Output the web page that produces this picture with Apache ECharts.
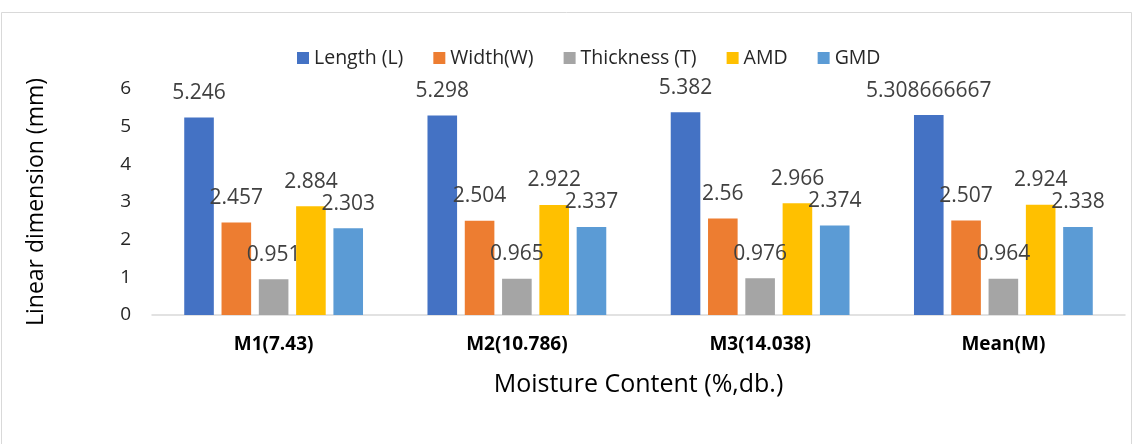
<!DOCTYPE html>
<html>
<head>
<meta charset="utf-8">
<style type="text/css">
    html, body {margin: 0; padding: 0; background: #fff;}
</style>
</head>
<body>
<div style="width: 1139px;height: 444px;" id="chart"></div>
<script src="https://cdn.jsdelivr.net/npm/echarts@6/dist/echarts.min.js"></script>
<script>

let categories = ['M1(7.43)', 'M2(10.786)', 'M3(14.038)', 'Mean(M)'];
let seriesNames = ['Length (L)', 'Width(W)', 'Thickness (T)', 'AMD', 'GMD'];
let colors = ['#4472C4', '#ED7D31', '#A5A5A5', '#FFC000', '#5B9BD5'];

let lengthL = [5.246, 5.298, 5.382, 5.308666667];
let widthW = [2.457, 2.504, 2.56, 2.507];
let thicknessT = [0.951, 0.965, 0.976, 0.964];
let amd = [2.884, 2.922, 2.966, 2.924];
let gmd = [2.303, 2.337, 2.374, 2.338];

let yTicks = [0, 1, 2, 3, 4, 5, 6];

let font = '"Open Sans", sans-serif';

let chart = echarts.init(document.getElementById('chart'));

let values = [lengthL, widthW, thicknessT, amd, gmd];

let series = values.map((vals, i) => {
    return {
        name: seriesNames[i],
        type: 'bar',
        data: vals,
        barGap: '26%',
        barCategoryGap: '26.5%',
        itemStyle: {color: colors[i]},
        label: {
            show: true,
            position: 'top',
            distance: 14,
            color: '#404040',
            fontSize: 21,
            fontFamily: font,
            formatter: p => String(p.value)
        }
    };
});

let option = {
    animation: false,
    backgroundColor: '#fff',
    graphic: [{
        type: 'rect',
        shape: {x: 1.5, y: 12.5, width: 1130, height: 440},
        style: {fill: 'none', stroke: '#d9d9d9', lineWidth: 1},
        silent: true
    }],
    legend: {
        left: 292,
        top: 43,
        itemWidth: 12,
        itemHeight: 12,
        itemGap: 30,
        icon: 'rect',
        textStyle: {fontSize: 19.5, color: '#262626', fontFamily: font},
        data: seriesNames
    },
    grid: {
        left: 152,
        right: 14,
        top: 89,
        bottom: 129
    },
    xAxis: {
        type: 'category',
        data: categories,
        name: 'Moisture Content (%,db.)',
        nameLocation: 'middle',
        nameGap: 57,
        nameTextStyle: {fontSize: 25, color: '#000', fontFamily: font},
        axisLine: {lineStyle: {color: '#d9d9d9', width: 1.5}},
        axisTick: {show: false},
        axisLabel: {
            margin: 20,
            fontSize: 19,
            fontWeight: 'bold',
            color: '#000',
            fontFamily: font
        }
    },
    yAxis: {
        type: 'value',
        min: yTicks[0],
        max: yTicks[yTicks.length - 1],
        interval: 1,
        name: 'Linear dimension (mm)',
        nameLocation: 'middle',
        nameGap: 104,
        nameTextStyle: {fontSize: 23, color: '#000', fontFamily: font},
        axisLine: {show: false},
        axisTick: {show: false},
        splitLine: {show: false},
        axisLabel: {
            margin: 21,
            fontSize: 19,
            color: '#262626',
            fontFamily: font
        }
    },
    series: series
};

chart.setOption(option);

</script>
</body>
</html>
